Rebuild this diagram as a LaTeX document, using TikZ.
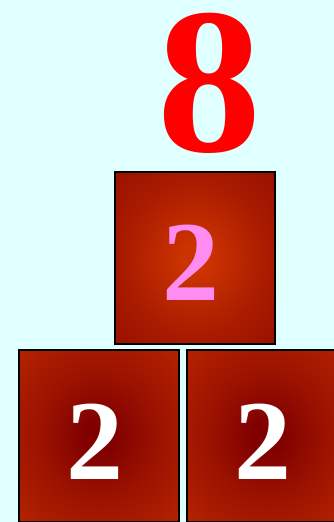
\documentclass[tikz,border=0pt]{standalone}
\usepackage{fontspec}
\setmainfont{Liberation Serif}
\usetikzlibrary{positioning}
\definecolor{bgcyan}{RGB}{224,255,255}
\definecolor{darkred}{RGB}{128,0,0}
\definecolor{rust}{RGB}{204,51,0}
\definecolor{pinkish}{RGB}{255,140,240}
\definecolor{bigred}{RGB}{255,0,0}
\pgfdeclareradialshading{glow}{\pgfpoint{0bp}{0bp}}{%
  color(0bp)=(rust); color(4bp)=(rust); color(22bp)=(rust!55!darkred);
  color(54bp)=(darkred); color(100bp)=(darkred)}
\pgfdeclareradialshading{dusk}{\pgfpoint{0bp}{0bp}}{%
  color(0bp)=(darkred); color(4bp)=(darkred); color(18bp)=(darkred!65!rust);
  color(52bp)=(rust); color(100bp)=(rust)}

\begin{document}
\begin{tikzpicture}[x=1pt, y=-1pt,
    box/.style={draw=black, line width=1.5pt, minimum width=160pt,
                minimum height=172pt, inner sep=0pt},
    glowbox/.style={box, shade, shading=glow},
    darkbox/.style={box, shade, shading=dusk},
    digit/.style={font=\fontsize{114}{114}\selectfont\bfseries, inner sep=0pt},
    total/.style={font=\fontsize{208}{208}\selectfont\bfseries, inner sep=0pt,
                  text=bigred}
]

% ============================
% Background
% ============================
\useasboundingbox (0,0) rectangle (334,522);
\clip (0,0) rectangle (334,522);
\fill[bgcyan] (0,0) rectangle (334,522);

% ============================
% Top: the product
% ============================
\node[total] (eight) at (209, 83) {8};

% ============================
% Middle box
% ============================
\node[glowbox] (mid) at (195, 258) {};
\node[digit, text=pinkish] (midnum) at (191, 263) {2};

% ============================
% Bottom boxes
% ============================
\node[darkbox] (left) at (99, 436) {};
\node[digit, text=white] (leftnum) at (95, 442) {2};
\node[darkbox] (right) at (267, 436) {};
\node[digit, text=white] (rightnum) at (263, 442) {2};

\end{tikzpicture}
\end{document}
